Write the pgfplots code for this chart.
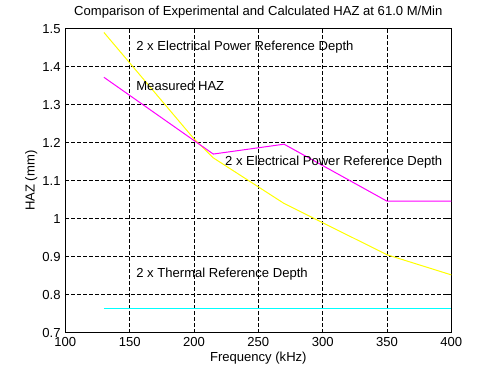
\documentclass[border=0pt]{standalone}
\usepackage{fontspec}
\setmainfont{Liberation Sans}
\usepackage{pgfplots}
\pgfplotsset{compat=1.18}
\definecolor{myyellow}{RGB}{255,255,0}
\definecolor{mymagenta}{RGB}{255,0,255}
\definecolor{mycyan}{RGB}{0,255,255}
\begin{document}
\begin{tikzpicture}[x=1pt,y=1pt]
\begin{axis}[
  scale only axis,
  width=289.5pt, height=228pt,
  xmin=100, xmax=400, ymin=0.7, ymax=1.5,
  xtick={100,150,...,400},
  ytick={0.7,0.8,0.9,1.0,1.1,1.2,1.3,1.4,1.5},
  yticklabels={0.7,0.8,0.9,1,1.1,1.2,1.3,1.4,1.5},
  /pgf/number format/assume math mode=true,
  ticklabel style={font=\fontsize{9.8}{11}\selectfont},
  label style={font=\fontsize{9.8}{11}\selectfont},
  title style={font=\fontsize{9.8}{11}\selectfont, yshift=-2pt},
  title={Comparison of Experimental and Calculated HAZ at 61.0 M/Min},
  xlabel={Frequency (kHz)},
  ylabel={HAZ (mm)},
  xlabel style={yshift=3pt},
  ylabel style={yshift=-3pt},
  tick align=inside,
  major tick length=3pt,
  xtick pos=both, ytick pos=both,
  grid=major,
  major grid style={black, line width=0.6pt, dash pattern=on 2.5pt off 2pt},
  axis line style={black, line width=0.6pt},
  every tick/.style={black, line width=0.6pt},
]
\addplot[myyellow, line width=0.75pt] coordinates {
  (130,1.49) (200,1.21) (215,1.16) (270,1.04) (350,0.905) (400,0.852)};
\addplot[mymagenta, line width=0.75pt] coordinates {
  (130,1.372) (215,1.17) (270,1.196) (350,1.046) (400,1.046)};
\addplot[mycyan, line width=0.75pt] coordinates {
  (130,0.764) (400,0.764)};
\node[anchor=west, font=\fontsize{9.8}{11}\selectfont, inner sep=0pt] at (axis cs:155,1.452) {2 x Electrical Power Reference Depth};
\node[anchor=west, font=\fontsize{9.8}{11}\selectfont, inner sep=0pt] at (axis cs:155,1.35) {Measured HAZ};
\node[anchor=west, font=\fontsize{9.8}{11}\selectfont, inner sep=0pt] at (axis cs:224,1.15) {2 x Electrical Power Reference Depth};
\node[anchor=west, font=\fontsize{9.8}{11}\selectfont, inner sep=0pt] at (axis cs:155,0.855) {2 x Thermal Reference Depth};
\end{axis}
\path ([shift={(-49pt,-32.25pt)}]current axis.south west) rectangle ([shift={(36.5pt,21.5pt)}]current axis.north east);
\end{tikzpicture}
\end{document}
